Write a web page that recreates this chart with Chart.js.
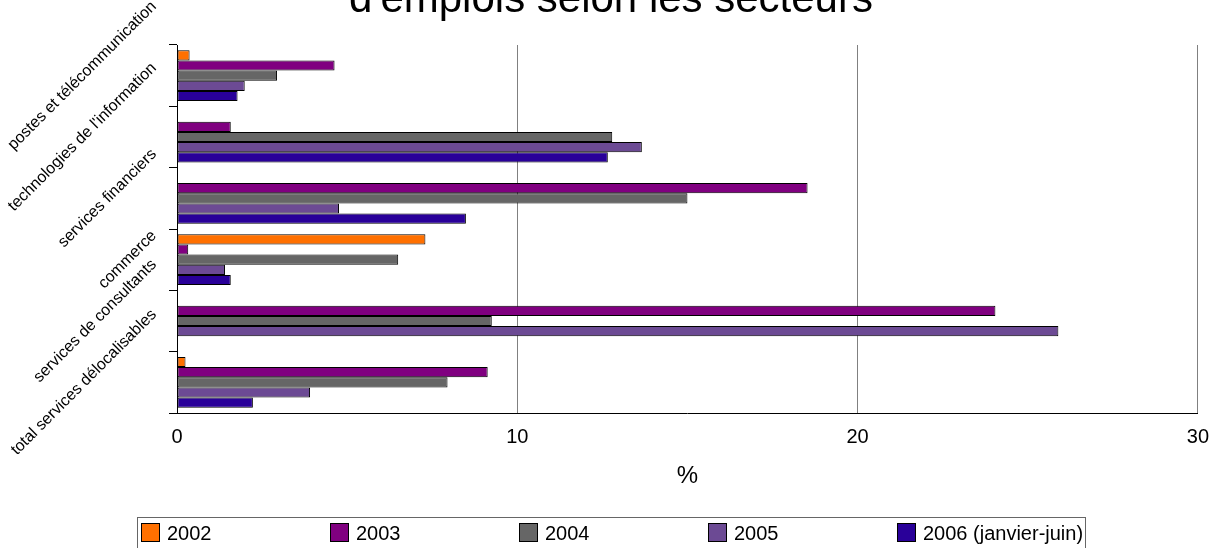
<!DOCTYPE html>
<html>
<head>
<meta charset="utf-8">
<script src="https://cdn.jsdelivr.net/npm/chart.js@4.4.0/dist/chart.umd.min.js"></script>
<style>
  html, body { margin: 0; padding: 0; background: #fff; }
  #wrap { width: 1221px; height: 548px; position: relative; overflow: hidden; }
</style>
</head>
<body>
<div id="wrap"><canvas id="chart" width="1221" height="548"></canvas></div>
<script>
// données (%)
const categories = ["postes et télécommunication", "technologies de l'information", "services financiers", "commerce", "services de consultants", "total services délocalisables"];
const years = ["2002", "2003", "2004", "2005", "2006 (janvier-juin)"];
const v2002 = [0.37, 0, 0, 7.3, 0, 0.25];
const v2003 = [4.63, 1.58, 18.53, 0.33, 24.05, 9.13];
const v2004 = [2.94, 12.79, 15.0, 6.5, 9.25, 7.95];
const v2005 = [1.99, 13.66, 4.76, 1.41, 25.9, 3.91];
const v2006 = [1.78, 12.66, 8.49, 1.58, 0, 2.23];
const xTicks = [0, 10, 20, 30];
const titleText = "d'emplois selon les secteurs";
const axisTitle = "%";

const colors = ['#FF7000', '#800080', '#666666', '#6C4A94', '#290099'];
const series = [v2002, v2003, v2004, v2005, v2006];
const FONT = '"Liberation Sans", Arial, sans-serif';

// titre (coupé en haut comme sur l'original)
const titlePlugin = {
  id: 'titleText',
  afterDraw(chart) {
    const ctx = chart.ctx;
    ctx.save();
    ctx.fillStyle = '#000';
    ctx.font = '42px ' + FONT;
    ctx.textAlign = 'center';
    ctx.textBaseline = 'alphabetic';
    ctx.fillText(titleText, 611, 12);
    ctx.restore();
  }
};

// étiquettes des catégories inclinées à 45°
const catLabels = {
  id: 'catLabels',
  afterDraw(chart) {
    const ctx = chart.ctx;
    const yScale = chart.scales.y;
    ctx.save();
    ctx.fillStyle = '#000';
    ctx.font = '16px ' + FONT;
    ctx.textAlign = 'right';
    ctx.textBaseline = 'middle';
    yScale.ticks.forEach((t, i) => {
      const y = yScale.getPixelForTick(i);
      const w = ctx.measureText(categories[i]).width;
      ctx.save();
      ctx.translate(154, y - w * Math.SQRT1_2 / 2);
      ctx.rotate(-Math.PI / 4);
      ctx.fillText(categories[i], 0, 0);
      ctx.restore();
    });
    ctx.restore();
  }
};

// légende encadrée en bas
const legendBox = {
  id: 'legendBox',
  afterDraw(chart) {
    const ctx = chart.ctx;
    ctx.save();
    ctx.strokeStyle = '#666';
    ctx.lineWidth = 1;
    ctx.strokeRect(137.5, 517.5, 948, 40);
    ctx.font = '20px ' + FONT;
    ctx.textBaseline = 'middle';
    chart.data.datasets.forEach((ds, i) => {
      const x = 141 + 189 * i;
      ctx.fillStyle = ds.backgroundColor;
      ctx.fillRect(x, 523, 19, 19);
      ctx.strokeStyle = '#000';
      ctx.strokeRect(x + 0.5, 523.5, 18, 18);
      ctx.fillStyle = '#000';
      ctx.fillText(ds.label, x + 26, 534);
    });
    ctx.restore();
  }
};

const ctx = document.getElementById('chart').getContext('2d');
const chart = new Chart(ctx, {
  type: 'bar',
  data: {
    labels: categories,
    datasets: years.map((y, i) => ({
      label: y,
      data: series[i],
      backgroundColor: colors[i],
      borderColor: '#000',
      borderWidth: 1,
      borderSkipped: false,
      categoryPercentage: 0.83,
      barPercentage: 1.0
    }))
  },
  options: {
    indexAxis: 'y',
    responsive: false,
    animation: false,
    layout: { padding: { top: 45, right: 22, left: 0, bottom: 0 } },
    plugins: {
      legend: { display: false },
      title: { display: false },
      tooltip: { enabled: false }
    },
    scales: {
      x: {
        type: 'linear',
        min: xTicks[0],
        max: xTicks[xTicks.length - 1],
        afterBuildTicks: s => { s.ticks = xTicks.map(v => ({ value: v })); },
        afterFit: s => { s.height = 135; },
        ticks: { font: { size: 20, family: FONT }, color: '#000', padding: 12 },
        grid: { color: '#808080', lineWidth: 1, drawTicks: false },
        border: { color: '#000', width: 1 },
        title: {
          display: true,
          text: axisTitle,
          color: '#000',
          font: { size: 24, family: FONT },
          padding: { top: 0, bottom: 57 }
        }
      },
      y: {
        type: 'category',
        afterFit: s => { s.width = 177; },
        ticks: { display: false },
        grid: { drawOnChartArea: false, drawTicks: true, tickLength: 8, color: '#000', offset: true },
        border: { color: '#000', width: 1 }
      }
    }
  },
  plugins: [titlePlugin, catLabels, legendBox]
});
</script>
</body>
</html>
